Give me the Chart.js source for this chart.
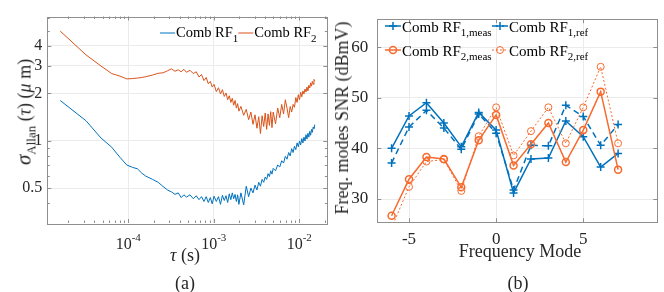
<!DOCTYPE html>
<html>
<head>
<meta charset="utf-8">
<script src="https://cdn.jsdelivr.net/npm/chart.js@4.4.1/dist/chart.umd.min.js"></script>
<style>
  html, body { margin: 0; padding: 0; background: #fff; }
  #wrap { position: relative; width: 664px; height: 292px; overflow: hidden; font-family: "Liberation Serif", "Times New Roman", serif; color: #262626; }
  canvas { position: absolute; top: 0; }
  #chartA { left: 0; }
  #chartB { left: 332px; }
  .lbl { position: absolute; transform: translate(-50%, -50%); white-space: nowrap; font-size: 18px; line-height: 1; }
  .rot { transform: translate(-50%, -50%) rotate(-90deg); }
  sub { font-size: 72%; vertical-align: -0.35em; line-height: 0; }
</style>
</head>
<body>
<div id="wrap">
  <canvas id="chartA" width="332" height="292"></canvas>
  <canvas id="chartB" width="332" height="292"></canvas>
  <div class="lbl rot" style="left:24px; top:112px;"><i style="font-size:21px">σ</i><sub>Allan</sub> (<i>τ</i>) (<i>μ</i> m)</div>
  <div class="lbl" style="left:185px; top:255px;"><i>τ</i> (s)</div>
  <div class="lbl" style="left:185px; top:283px;">(a)</div>
  <div class="lbl rot" style="left:342px; top:118px;">Freq. modes SNR (dBmV)</div>
  <div class="lbl" style="left:520px; top:251px;">Frequency Mode</div>
  <div class="lbl" style="left:518px; top:283px;">(b)</div>
</div>
<script>
// (a) Allan deviation, tau in microseconds, sigma in um
const tauUs = [16, 32, 48, 64, 80, 96, 112, 128, 144, 160,
  192, 224, 256, 288, 320, 352, 384, 416, 448, 480,
  528, 576, 624, 672, 720, 768, 816, 864, 912, 960, 1008,
  1072, 1136, 1200, 1264, 1328, 1392, 1456, 1520, 1584, 1648, 1712, 1776, 1840, 1904, 1968,
  2080, 2240, 2400, 2560, 2720, 2880, 3040, 3200, 3360, 3520, 3680, 3840, 4000, 4160, 4320, 4480, 4640, 4800, 4960,
  5280, 5600, 5920, 6240, 6560, 6880, 7200, 7520, 7840, 8160, 8480, 8800, 9120, 9440, 9760, 10080,
  10400, 10720, 11040, 11360, 11680, 12000, 12320, 12640, 12960, 13280, 13600, 13920, 14240, 14560, 14880, 15200];

const rf1Sigma = [1.80, 1.34, 1.04, 0.909, 0.784, 0.701, 0.677, 0.663, 0.622, 0.596,
  0.568, 0.544, 0.511, 0.486, 0.473, 0.456, 0.466, 0.435, 0.453, 0.438,
  0.453, 0.428, 0.447, 0.422, 0.441, 0.411, 0.441, 0.405, 0.435, 0.397, 0.444,
  0.411, 0.441, 0.394, 0.450, 0.417, 0.447, 0.405, 0.460, 0.422, 0.466, 0.428, 0.456, 0.411, 0.453, 0.394,
  0.466, 0.391, 0.514, 0.441, 0.500, 0.466, 0.522, 0.486, 0.544, 0.514, 0.568, 0.544, 0.588, 0.568, 0.617, 0.592, 0.644, 0.613, 0.667,
  0.644, 0.701, 0.681, 0.746, 0.721, 0.795, 0.763, 0.841, 0.801, 0.890, 0.841, 0.922, 0.877, 0.968, 0.915, 0.996,
  0.941, 1.031, 0.968, 1.053, 0.996, 1.091, 1.024, 1.114, 1.053, 1.146, 1.083, 1.179, 1.130, 1.221, 1.195, 1.265];

const rf2Sigma = [4.97, 3.51, 2.98, 2.67, 2.57, 2.47, 2.48, 2.50, 2.52, 2.55,
  2.61, 2.68, 2.70, 2.78, 2.86, 2.76, 2.82, 2.74, 2.84, 2.72,
  2.80, 2.67, 2.74, 2.54, 2.63, 2.41, 2.52, 2.30, 2.38, 2.19, 2.28,
  2.05, 2.17, 1.98, 2.11, 1.91, 2.01, 1.82, 1.93, 1.75, 1.86, 1.68, 1.80, 1.61, 1.72, 1.54,
  1.65, 1.45, 1.58, 1.36, 1.52, 1.27, 1.46, 1.20, 1.42, 1.11, 1.44, 1.23, 1.50, 1.18, 1.48, 1.25, 1.53, 1.21, 1.52,
  1.28, 1.61, 1.40, 1.70, 1.48, 1.82, 1.61, 1.40, 1.65, 1.52, 1.70, 1.63, 1.88, 1.75, 1.96, 1.82,
  2.03, 1.90, 2.07, 1.98, 2.13, 2.04, 2.19, 2.07, 2.25, 2.16, 2.33, 2.22, 2.38, 2.28, 2.45, 2.40];

const tauDecades = [1e-4, 1e-3, 1e-2];
const tauExponents = ["-4", "-3", "-2"];
const sigmaTicks = [0.5, 1, 2, 3, 4];

// (b) SNR per frequency mode
const modes = [-6, -5, -4, -3, -2, -1, 0, 1, 2, 3, 4, 5, 6, 7];
const rf1Meas = [40.0, 46.4, 49.0, 45.0, 40.3, 47.1, 43.6, 31.2, 37.9, 38.1, 45.4, 42.3, 36.3, 39.0];
const rf1Ref = [37.1, 44.2, 47.5, 44.0, 39.8, 46.8, 43.0, 31.8, 40.6, 40.5, 48.5, 46.3, 40.6, 44.7];
const rf2Meas = [26.7, 33.9, 38.3, 37.9, 32.3, 41.6, 46.6, 36.6, 40.8, 45.0, 37.3, 43.6, 51.2, 35.8];
const rf2Ref = [24.3, 32.4, 37.4, 37.8, 31.6, 42.4, 48.1, 38.6, 43.4, 48.1, 41.0, 48.1, 56.1, 41.0];
const modeTicks = [-5, 0, 5];
const snrTicks = [30, 40, 50, 60];

const BLUE = "#0072BD";
const RED = "#D95319";
const ORANGE = "#F86A2E";
const AXIS = "#8f8f8f";
const TEXT = "#262626";
const GRID = "#ebebeb";
const FONT = "'Liberation Serif', serif";

Chart.defaults.font.family = FONT;

function framePlugin(xMarks, yMarks) {
    return {
        id: "frame",
        afterDraw(chart) {
            const { ctx, chartArea: a, scales: { x, y } } = chart;
            ctx.save();
            ctx.strokeStyle = AXIS;
            ctx.lineWidth = 1;
            ctx.beginPath();
            xMarks.forEach(([v, len]) => {
                const px = Math.round(x.getPixelForValue(v)) + 0.5;
                ctx.moveTo(px, a.bottom); ctx.lineTo(px, a.bottom - len);
                ctx.moveTo(px, a.top); ctx.lineTo(px, a.top + len);
            });
            yMarks.forEach(([v, len]) => {
                const py = Math.round(y.getPixelForValue(v)) + 0.5;
                ctx.moveTo(a.left, py); ctx.lineTo(a.left + len, py);
                ctx.moveTo(a.right, py); ctx.lineTo(a.right - len, py);
            });
            ctx.stroke();
            ctx.strokeRect(Math.round(a.left) + 0.5, Math.round(a.top) + 0.5,
                Math.round(a.right - a.left), Math.round(a.bottom - a.top));
            ctx.restore();
        }
    };
}

function drawMarker(ctx, kind, x, y, color, lw) {
    ctx.save();
    ctx.strokeStyle = color;
    ctx.lineWidth = lw;
    ctx.setLineDash([]);
    ctx.beginPath();
    if (kind === "cross") {
        ctx.moveTo(x - 4, y); ctx.lineTo(x + 4, y);
        ctx.moveTo(x, y - 4); ctx.lineTo(x, y + 4);
    } else {
        ctx.arc(x, y, 3.5, 0, Math.PI * 2);
    }
    ctx.stroke();
    ctx.restore();
}

function drawSample(ctx, x0, x1, y, color, lw, dash) {
    ctx.save();
    ctx.strokeStyle = color;
    ctx.lineWidth = lw;
    ctx.setLineDash(dash);
    ctx.beginPath();
    ctx.moveTo(x0, y); ctx.lineTo(x1, y);
    ctx.stroke();
    ctx.restore();
}

function drawSubText(ctx, x, base, main, sub, size, subSize) {
    ctx.save();
    ctx.fillStyle = "#000";
    ctx.textBaseline = "alphabetic";
    ctx.textAlign = "left";
    ctx.font = `${size}px ${FONT}`;
    ctx.fillText(main, x, base);
    const w = ctx.measureText(main).width;
    ctx.font = `${subSize}px ${FONT}`;
    ctx.fillText(sub, x + w, base + subSize * 0.45);
    const end = x + w + ctx.measureText(sub).width;
    ctx.restore();
    return end;
}

const legendA = {
    id: "legendA",
    afterDraw(chart) {
        const ctx = chart.ctx;
        let x = 160;
        [[BLUE, "1"], [RED, "2"]].forEach(([c, s]) => {
            drawSample(ctx, x, x + 15, 33, c, 1, []);
            x = drawSubText(ctx, x + 16, 37, "Comb RF", s, 14.5, 11);
        });
    }
};

const tickLabelsA = {
    id: "tickLabelsA",
    afterDraw(chart) {
        const { ctx, scales: { x } } = chart;
        ctx.save();
        ctx.fillStyle = TEXT;
        ctx.textBaseline = "alphabetic";
        ctx.textAlign = "left";
        tauDecades.forEach((v, i) => {
            ctx.font = `16px ${FONT}`;
            const w1 = ctx.measureText("10").width;
            ctx.font = `11px ${FONT}`;
            const w2 = ctx.measureText(tauExponents[i]).width;
            const left = x.getPixelForValue(v) - (w1 + w2) / 2;
            ctx.font = `16px ${FONT}`;
            ctx.fillText("10", left, 249);
            ctx.font = `11px ${FONT}`;
            ctx.fillText(tauExponents[i], left + w1, 241);
        });
        ctx.restore();
    }
};

const legendB = {
    id: "legendB",
    afterDraw(chart) {
        const ctx = chart.ctx;
        const rows = [
            [53, 26, BLUE, 1.5, [], "cross", 1.5, "1,meas"],
            [160, 26, BLUE, 1.5, [6, 4], "cross", 1.5, "1,ref"],
            [53, 50, ORANGE, 1.5, [], "circle", 1.5, "2,meas"],
            [160, 50, ORANGE, 1, [2, 2], "circle", 1, "2,ref"]
        ];
        rows.forEach(([x, y, c, lw, dash, mk, mlw, sub]) => {
            drawSample(ctx, x, x + 16, y, c, lw, dash);
            drawMarker(ctx, mk, x + 8, y, c, mlw);
            drawSubText(ctx, x + 17, y + 5.5, "Comb RF", sub, 15, 11);
        });
    }
};

// minor tick marks for the log axes
const tauMarks = [];
[1e-5, 1e-4, 1e-3, 1e-2].forEach(d => {
    for (let k = 1; k <= 9; k++) {
        const v = k * d;
        if (v > 1.15e-5 && v < 0.021) tauMarks.push([v, k === 1 ? 4 : 2.5]);
    }
});
const sigmaMarks = [0.4, 0.5, 0.6, 0.7, 0.8, 0.9, 1, 2, 3, 4, 5, 6]
    .map(v => [v, sigmaTicks.includes(v) ? 4 : 2.5]);

const toPoints = (xs, ys, f = 1) => xs.map((t, i) => ({ x: t * f, y: ys[i] }));

new Chart(document.getElementById("chartA"), {
    type: "line",
    data: {
        datasets: [
            { data: toPoints(tauUs, rf1Sigma, 1e-6), borderColor: BLUE, borderWidth: 1, pointRadius: 0, tension: 0 },
            { data: toPoints(tauUs, rf2Sigma, 1e-6), borderColor: RED, borderWidth: 1, pointRadius: 0, tension: 0 }
        ]
    },
    options: {
        responsive: false,
        animation: false,
        events: [],
        layout: { padding: { top: 16.5, right: 4.7, left: 0, bottom: 0 } },
        plugins: { legend: { display: false }, tooltip: { enabled: false } },
        scales: {
            x: {
                type: "logarithmic",
                min: 1.13e-5,
                max: 0.0213,
                afterBuildTicks: s => { s.ticks = tauDecades.map(v => ({ value: v })); },
                afterFit: s => { s.height = 69; },
                ticks: { display: false },
                grid: { color: GRID, drawTicks: false },
                border: { display: false }
            },
            y: {
                type: "logarithmic",
                min: 0.337,
                max: 6.15,
                afterBuildTicks: s => { s.ticks = sigmaTicks.map(v => ({ value: v })); },
                afterFit: s => { s.width = 47.3; },
                ticks: { color: TEXT, font: { family: FONT, size: 16 }, padding: 5, callback: v => String(v) },
                grid: { color: GRID, drawTicks: false },
                border: { display: false }
            }
        }
    },
    plugins: [framePlugin(tauMarks, sigmaMarks), legendA, tickLabelsA]
});

new Chart(document.getElementById("chartB"), {
    type: "line",
    data: {
        datasets: [
            { data: toPoints(modes, rf1Meas), borderColor: BLUE, borderWidth: 1.5, pointStyle: "cross",
              pointRadius: 4, pointBorderWidth: 1.5, pointBorderColor: BLUE, tension: 0, order: 4 },
            { data: toPoints(modes, rf1Ref), borderColor: BLUE, borderWidth: 1.5, borderDash: [6, 4], pointStyle: "cross",
              pointRadius: 4, pointBorderWidth: 1.5, pointBorderColor: BLUE, tension: 0, order: 3 },
            { data: toPoints(modes, rf2Meas), borderColor: ORANGE, borderWidth: 1.5, pointStyle: "circle",
              pointRadius: 3.5, pointBorderWidth: 1.5, pointBorderColor: ORANGE, pointBackgroundColor: "rgba(0,0,0,0)", tension: 0, order: 2 },
            { data: toPoints(modes, rf2Ref), borderColor: ORANGE, borderWidth: 1, borderDash: [2, 2], pointStyle: "circle",
              pointRadius: 3.5, pointBorderWidth: 1, pointBorderColor: ORANGE, pointBackgroundColor: "rgba(0,0,0,0)", tension: 0, order: 1 }
        ]
    },
    options: {
        responsive: false,
        animation: false,
        events: [],
        layout: { padding: { top: 15, right: 6.7, left: 0, bottom: 0 } },
        plugins: { legend: { display: false }, tooltip: { enabled: false } },
        scales: {
            x: {
                type: "linear",
                min: -6.82,
                max: 9.25,
                afterBuildTicks: s => { s.ticks = modeTicks.map(v => ({ value: v })); },
                afterFit: s => { s.height = 69.7; },
                ticks: { color: TEXT, font: { family: FONT, size: 17 }, padding: 7, callback: v => String(v) },
                grid: { color: GRID, drawTicks: false },
                border: { display: false }
            },
            y: {
                type: "linear",
                min: 25.4,
                max: 65.5,
                afterBuildTicks: s => { s.ticks = snrTicks.map(v => ({ value: v })); },
                afterFit: s => { s.width = 45.3; },
                ticks: { color: TEXT, font: { family: FONT, size: 17 }, padding: 9, callback: v => String(v) },
                grid: { color: GRID, drawTicks: false },
                border: { display: false }
            }
        }
    },
    plugins: [framePlugin(modeTicks.map(v => [v, 4]), snrTicks.map(v => [v, 4])), legendB]
});
</script>
</body>
</html>
